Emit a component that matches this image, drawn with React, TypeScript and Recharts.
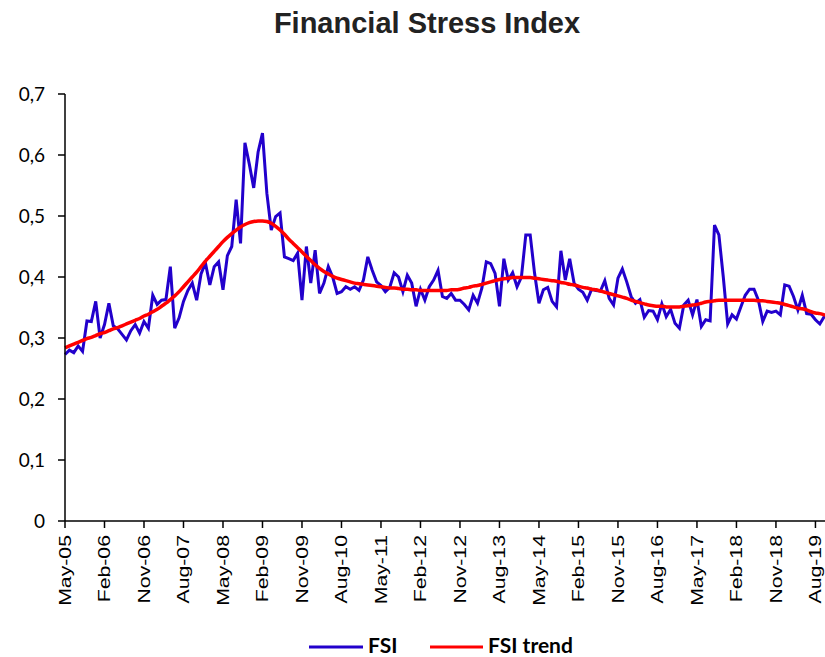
import React from 'react';
import { LineChart, Line, XAxis, YAxis } from 'recharts';

// monthly observations, May-05 onwards
const MONTHS = ['Jan', 'Feb', 'Mar', 'Apr', 'May', 'Jun', 'Jul', 'Aug', 'Sep', 'Oct', 'Nov', 'Dec'];
const START_YEAR = 2005;
const START_MONTH = 4; // May

const FSI = [
  0.273, 0.280, 0.276, 0.287, 0.278, 0.328, 0.327, 0.360, 0.300, 0.322,
  0.357, 0.320, 0.315, 0.306, 0.297, 0.312, 0.322, 0.308, 0.327, 0.316,
  0.370, 0.355, 0.362, 0.363, 0.417, 0.316, 0.333, 0.360, 0.378, 0.390,
  0.362, 0.405, 0.423, 0.387, 0.417, 0.425, 0.379, 0.435, 0.450, 0.527,
  0.455, 0.620, 0.585, 0.546, 0.605, 0.636, 0.537, 0.477, 0.499, 0.505,
  0.433, 0.430, 0.427, 0.439, 0.362, 0.450, 0.390, 0.444, 0.373, 0.390,
  0.417, 0.400, 0.373, 0.376, 0.384, 0.380, 0.384, 0.378, 0.395, 0.433,
  0.411, 0.392, 0.386, 0.376, 0.383, 0.407, 0.400, 0.376, 0.403, 0.390,
  0.352, 0.380, 0.362, 0.384, 0.395, 0.411, 0.368, 0.365, 0.373, 0.362,
  0.362, 0.355, 0.346, 0.370, 0.357, 0.382, 0.425, 0.422, 0.406, 0.352,
  0.430, 0.395, 0.407, 0.384, 0.400, 0.469, 0.469, 0.406, 0.357, 0.379,
  0.383, 0.360, 0.351, 0.443, 0.395, 0.430, 0.390, 0.380, 0.375, 0.362,
  0.380, 0.378, 0.377, 0.394, 0.365, 0.354, 0.398, 0.413, 0.392, 0.368,
  0.357, 0.363, 0.334, 0.345, 0.344, 0.330, 0.356, 0.335, 0.347, 0.324,
  0.316, 0.354, 0.362, 0.338, 0.363, 0.319, 0.330, 0.328, 0.485, 0.469,
  0.400, 0.323, 0.338, 0.331, 0.351, 0.370, 0.380, 0.380, 0.362, 0.327,
  0.344, 0.342, 0.344, 0.338, 0.387, 0.385, 0.368, 0.346, 0.370, 0.340,
  0.339, 0.330, 0.323, 0.335, 0.340, 0.345,
];

const TREND = [
  0.284, 0.287, 0.290, 0.293, 0.296, 0.299, 0.301, 0.304, 0.307, 0.309,
  0.312, 0.315, 0.317, 0.320, 0.323, 0.326, 0.329, 0.332, 0.336, 0.339,
  0.343, 0.347, 0.352, 0.357, 0.363, 0.369, 0.376, 0.384, 0.392, 0.400,
  0.408, 0.417, 0.426, 0.434, 0.442, 0.450, 0.458, 0.465, 0.471, 0.477,
  0.482, 0.486, 0.489, 0.491, 0.492, 0.492, 0.491, 0.488, 0.483, 0.477,
  0.470, 0.462, 0.455, 0.448, 0.441, 0.434, 0.427, 0.420, 0.414, 0.409,
  0.405, 0.401, 0.398, 0.396, 0.394, 0.392, 0.390, 0.389, 0.388, 0.387,
  0.386, 0.385, 0.384, 0.383, 0.382, 0.382, 0.381, 0.380, 0.380, 0.379,
  0.379, 0.378, 0.378, 0.378, 0.378, 0.378, 0.378, 0.378, 0.379, 0.379,
  0.380, 0.382, 0.383, 0.385, 0.386, 0.388, 0.390, 0.392, 0.394, 0.396,
  0.397, 0.398, 0.399, 0.399, 0.399, 0.399, 0.399, 0.398, 0.397, 0.396,
  0.395, 0.394, 0.393, 0.391, 0.390, 0.388, 0.387, 0.385, 0.383, 0.382,
  0.380, 0.379, 0.377, 0.375, 0.373, 0.371, 0.369, 0.367, 0.365, 0.362,
  0.360, 0.358, 0.356, 0.354, 0.353, 0.352, 0.352, 0.351, 0.351, 0.351,
  0.351, 0.352, 0.353, 0.354, 0.355, 0.357, 0.359, 0.360, 0.361, 0.362,
  0.362, 0.362, 0.362, 0.362, 0.362, 0.362, 0.362, 0.362, 0.361, 0.361,
  0.360, 0.359, 0.358, 0.357, 0.355, 0.353, 0.351, 0.349, 0.348, 0.346,
  0.343, 0.341, 0.340, 0.338, 0.336, 0.334,
];

const Y_TICKS = [0, 0.1, 0.2, 0.3, 0.4, 0.5, 0.6, 0.7];

const monthLabel = (i: number) => {
  const m = START_MONTH + i;
  const year = START_YEAR + Math.floor(m / 12);
  return `${MONTHS[m % 12]}-${String(year % 100).padStart(2, '0')}`;
};

const data = FSI.map((v, i) => ({ month: monthLabel(i), fsi: v, trend: TREND[i] }));

const BLUE = '#2200CC';
const RED = '#FF0000';

const XTick = (props: any) => {
  const { x, y, payload } = props;
  return (
    <text
      transform={`translate(${x},${y + 5}) rotate(-90) scale(1.25,1)`}
      textAnchor="end"
      dy="0.35em"
      fontFamily="'Liberation Sans', Arial, sans-serif"
      fontSize={17}
      fill="#000"
    >
      {payload.value}
    </text>
  );
};

const fmtY = (v: number) => (v === 0 ? '0' : v.toFixed(1).replace('.', ','));

export default function App() {
  return (
    <div style={{ position: 'absolute', left: 0, top: 0, width: 825, height: 657, overflow: 'hidden', background: '#fff' }}>
      <LineChart width={838} height={657} data={data} margin={{ top: 94, right: 5, bottom: 56, left: 0 }}>
        <XAxis
          dataKey="month"
          interval={8}
          tick={<XTick />}
          tickSize={7}
          height={80}
          axisLine={{ stroke: '#000', strokeWidth: 1.5 }}
          tickLine={{ stroke: '#000', strokeWidth: 1.5 }}
        />
        <YAxis
          domain={[0, 0.7]}
          ticks={Y_TICKS}
          tickFormatter={fmtY}
          width={65}
          tickSize={7}
          tickMargin={13}
          axisLine={{ stroke: '#000', strokeWidth: 1.5 }}
          tickLine={{ stroke: '#000', strokeWidth: 1.5 }}
          tick={{ fill: '#000', fontSize: 19, fontFamily: 'Lato, sans-serif' }}
        />
        <Line type="linear" dataKey="fsi" stroke={BLUE} strokeWidth={3} dot={false} isAnimationActive={false} />
        <Line type="monotone" dataKey="trend" stroke={RED} strokeWidth={3.5} dot={false} isAnimationActive={false} />
      </LineChart>
      <svg width={825} height={657} style={{ position: 'absolute', left: 0, top: 0, pointerEvents: 'none' }}>
        <text x={427} y={33} textAnchor="middle" fontFamily="'Liberation Sans', Arial, sans-serif" fontWeight="bold" fontSize={29} fill="#222">
          Financial Stress Index
        </text>
        <line x1={309} x2={363} y1={647} y2={647} stroke={BLUE} strokeWidth={3} />
        <text x={368} y={653} fontFamily="Lato, sans-serif" fontWeight="bold" fontSize={21} fill="#000">FSI</text>
        <line x1={430} x2={483} y1={647} y2={647} stroke={RED} strokeWidth={3} />
        <text x={488} y={653} fontFamily="Lato, sans-serif" fontWeight="bold" fontSize={21} fill="#000">FSI trend</text>
      </svg>
    </div>
  );
}
